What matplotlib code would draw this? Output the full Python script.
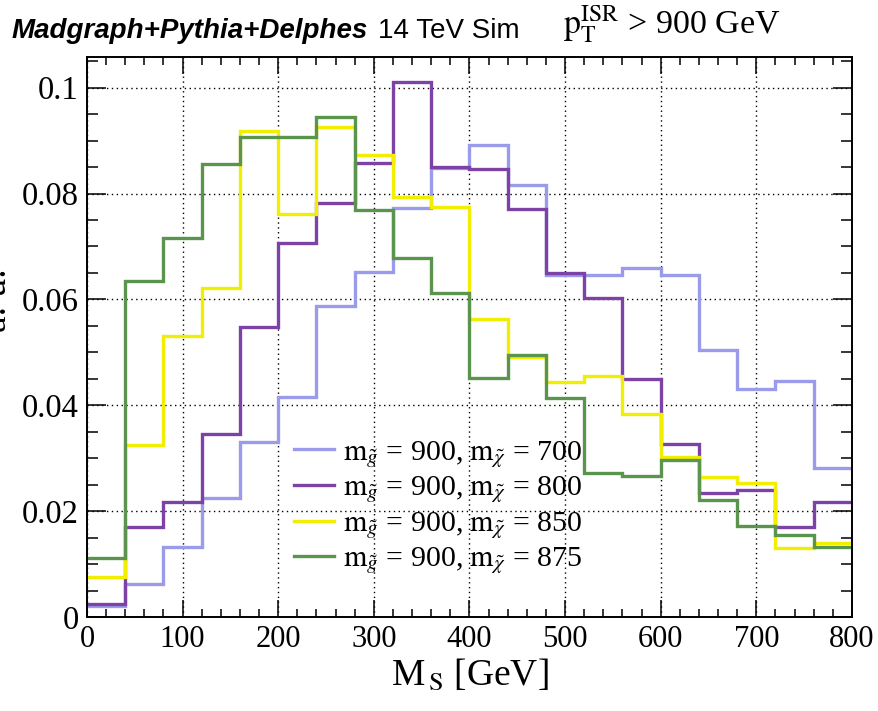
import numpy as np
import matplotlib
matplotlib.use("Agg")
import matplotlib.pyplot as plt
from matplotlib.ticker import MultipleLocator, FixedLocator, FixedFormatter

plt.rcParams['font.family'] = ['Liberation Serif', 'DejaVu Serif']
plt.rcParams['mathtext.fontset'] = 'stix'

# M_S histogram binning (GeV)
bin_edges = np.arange(0, 801, 40)

# normalised distributions, one per (gluino, neutralino) mass point
h_700 = [0.0020, 0.0062, 0.0132, 0.0225, 0.0331, 0.0416, 0.0588, 0.0652, 0.0773, 0.0849,
         0.0892, 0.0817, 0.0646, 0.0646, 0.0660, 0.0646, 0.0505, 0.0431, 0.0446, 0.0281]
h_800 = [0.0025, 0.0170, 0.0217, 0.0346, 0.0548, 0.0707, 0.0782, 0.0858, 0.1010, 0.0851,
         0.0847, 0.0771, 0.0650, 0.0603, 0.0450, 0.0327, 0.0235, 0.0240, 0.0170, 0.0217]
h_850 = [0.0075, 0.0325, 0.0530, 0.0622, 0.0919, 0.0762, 0.0925, 0.0872, 0.0794, 0.0775,
         0.0563, 0.0491, 0.0444, 0.0456, 0.0384, 0.0303, 0.0265, 0.0253, 0.0130, 0.0140]
h_875 = [0.0112, 0.0635, 0.0716, 0.0856, 0.0907, 0.0907, 0.0945, 0.0768, 0.0678, 0.0613,
         0.0451, 0.0495, 0.0413, 0.0273, 0.0267, 0.0297, 0.0221, 0.0171, 0.0155, 0.0133]

labels = [r'$\mathrm{m}_{\tilde{g}}$ = 900, $\mathrm{m}_{\tilde{\chi}}$ = 700',
          r'$\mathrm{m}_{\tilde{g}}$ = 900, $\mathrm{m}_{\tilde{\chi}}$ = 800',
          r'$\mathrm{m}_{\tilde{g}}$ = 900, $\mathrm{m}_{\tilde{\chi}}$ = 850',
          r'$\mathrm{m}_{\tilde{g}}$ = 900, $\mathrm{m}_{\tilde{\chi}}$ = 875']
colors = ['#9b9bec', '#7d42a6', '#f2ee00', '#5b944c']

x_ticks = [0, 100, 200, 300, 400, 500, 600, 700, 800]
x_ticklabels = ['0', '100', '200', '300', '400', '500', '600', '700', '800']
y_ticks = [0, 0.02, 0.04, 0.06, 0.08, 0.1]
y_ticklabels = ['0', '0.02', '0.04', '0.06', '0.08', '0.1']

W, H = 879, 711
fig = plt.figure(figsize=(W / 100, H / 100), dpi=100)
ax = fig.add_axes([87 / W, 1 - 617 / H, (852 - 87) / W, (617 - 57) / H])

for vals, col, lab in zip([h_700, h_800, h_850, h_875], colors, labels):
    ax.stairs(vals, bin_edges, color=col, lw=2.4, baseline=None, label=lab)

ax.set_xlim(0, 800)
ax.set_ylim(0, 0.1058)

ax.xaxis.set_major_locator(FixedLocator(x_ticks))
ax.xaxis.set_major_formatter(FixedFormatter(x_ticklabels))
ax.xaxis.set_minor_locator(MultipleLocator(20))
ax.yaxis.set_major_locator(FixedLocator(y_ticks))
ax.yaxis.set_major_formatter(FixedFormatter(y_ticklabels))
ax.yaxis.set_minor_locator(MultipleLocator(0.005))

ax.grid(True, which='major', color='black', linestyle=(0, (1, 2.5)), linewidth=1.0)
ax.set_axisbelow(True)

ax.tick_params(which='both', direction='in', top=True, right=True, width=1.1,
               colors='black')
ax.tick_params(axis='x', which='major', length=12, pad=6, labelsize=22)
ax.tick_params(axis='x', which='minor', length=6)
ax.tick_params(axis='y', which='major', length=14, pad=6, labelsize=23.5)
ax.tick_params(axis='y', which='minor', length=8)
for sp in ax.spines.values():
    sp.set_linewidth(1.4)

ax.set_xlabel(r'M$_{\,\mathrm{S}}$ [GeV]', fontsize=27, labelpad=2)

fig.text(14 / W, 1 - 300 / H, 'a. u.', rotation=90, fontsize=27,
         ha='right', va='center')

leg = ax.legend(loc='upper left', bbox_to_anchor=(0.271, 0.318), frameon=False,
                fontsize=21.5, handlelength=1.33, handletextpad=0.3,
                labelspacing=0.16, borderaxespad=0, borderpad=0)

# header line
fig.text(12 / W, 1 - 38 / H, 'Madgraph+Pythia+Delphes', fontsize=20,
         family='Liberation Sans', weight='bold', style='italic', va='baseline')
fig.text(378 / W, 1 - 38 / H, '14 TeV Sim', fontsize=20,
         family='Liberation Sans', va='baseline')
fig.text(563 / W, 1 - 34 / H,
         r'$\mathrm{p}_{\mathrm{T}}^{\mathrm{ISR}}$ > 900 GeV', fontsize=24.5,
         va='baseline')

fig.savefig('out.png', dpi=100)
